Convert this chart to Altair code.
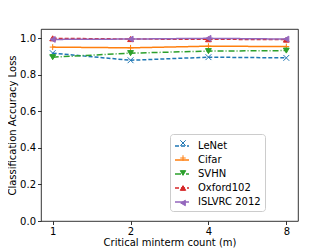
import altair as alt
import pandas as pd

m_values = [1, 2, 4, 8]
series = ["LeNet", "Cifar", "SVHN", "Oxford102", "ISLVRC 2012"]
lenet = [0.918, 0.879, 0.896, 0.892]
cifar = [0.951, 0.947, 0.956, 0.954]
svhn = [0.896, 0.918, 0.929, 0.932]
oxford = [0.999, 0.995, 0.994, 0.992]
islvrc = [0.993, 0.995, 0.999, 0.995]

colors = ["#1f77b4", "#ff7f0e", "#2ca02c", "#d62728", "#9467bd"]
dashes = [[4, 2], [1, 0], [6, 2, 1, 2], [4, 2], [1, 0]]
shapes = [
    "M-1,-1L1,1M-1,1L1,-1",
    "M-1,0L1,0M0,-1L0,1",
    "triangle-down",
    "triangle-up",
    "triangle-left",
]
series_pt = [s + " " for s in series]

rows = []
for name, name2, vals in zip(series, series_pt, [lenet, cifar, svhn, oxford, islvrc]):
    for m, v in zip(m_values, vals):
        rows.append({"m": m, "loss": v, "series": name, "series2": name2})
df = pd.DataFrame(rows)

x = alt.X("m:Q", scale=alt.Scale(type="log", base=2, domain=[2 ** -0.15, 2 ** 3.15], nice=False),
          axis=alt.Axis(values=m_values, format="d", title="Critical minterm count (m)"))
y = alt.Y("loss:Q", scale=alt.Scale(domain=[0, 1.05], nice=False),
          axis=alt.Axis(values=[0, 0.2, 0.4, 0.6, 0.8, 1.0], format=".1f", title="Classification Accuracy Loss"))

leg_line = alt.Legend(title=None, orient="none", legendX=129, legendY=105,
                      strokeColor="#cccccc", cornerRadius=3, padding=4,
                      symbolType="stroke", symbolSize=196, symbolStrokeWidth=1.5,
                      labelFontSize=10, labelFont="DejaVu Sans", labelColor="black",
                      labelOffset=8, rowPadding=1, labelLimit=200)
leg_pt = alt.Legend(title=None, orient="none", legendX=133, legendY=105, padding=4,
                    symbolSize=30, symbolStrokeWidth=1,
                    labelFontSize=10, labelFont="DejaVu Sans", labelExpr="''",
                    labelOffset=8, rowPadding=5, labelLimit=200)

sc = alt.Scale(domain=series, range=colors)
sc2 = alt.Scale(domain=series_pt, range=colors)

lines = alt.Chart(df).mark_line(strokeWidth=1.5).encode(
    x=x, y=y,
    color=alt.Color("series:N", scale=sc, legend=leg_line, sort=series),
    strokeDash=alt.StrokeDash("series:N", scale=alt.Scale(domain=series, range=dashes), legend=leg_line, sort=series),
)
points = alt.Chart(df).mark_point(filled=True, size=34, strokeWidth=1, opacity=1).encode(
    x=x, y=y,
    fill=alt.Fill("series2:N", scale=sc2, legend=leg_pt, sort=series_pt),
    shape=alt.Shape("series2:N", scale=alt.Scale(domain=series_pt, range=shapes), legend=leg_pt, sort=series_pt),
    stroke=alt.Stroke("series2:N", scale=sc2, legend=leg_pt, sort=series_pt),
)

chart = alt.layer(lines, points).properties(
    width=257, height=192,
    autosize=alt.AutoSizeParams(type="none"),
    padding={"left": 33, "top": 21, "right": 20, "bottom": 28},
).configure_view(stroke="black", strokeWidth=0.8).configure_axis(
    grid=False, domain=False, tickColor="black", tickSize=3.5, tickWidth=0.8,
    labelFont="DejaVu Sans", labelFontSize=10, labelColor="black", labelPadding=2,
    titleFont="DejaVu Sans", titleFontSize=10, titleFontWeight="normal", titleColor="black",
).configure_axisY(titlePadding=2).configure_axisX(titlePadding=1)

chart.save("out.html", embed_options={"renderer": "svg", "actions": False})
